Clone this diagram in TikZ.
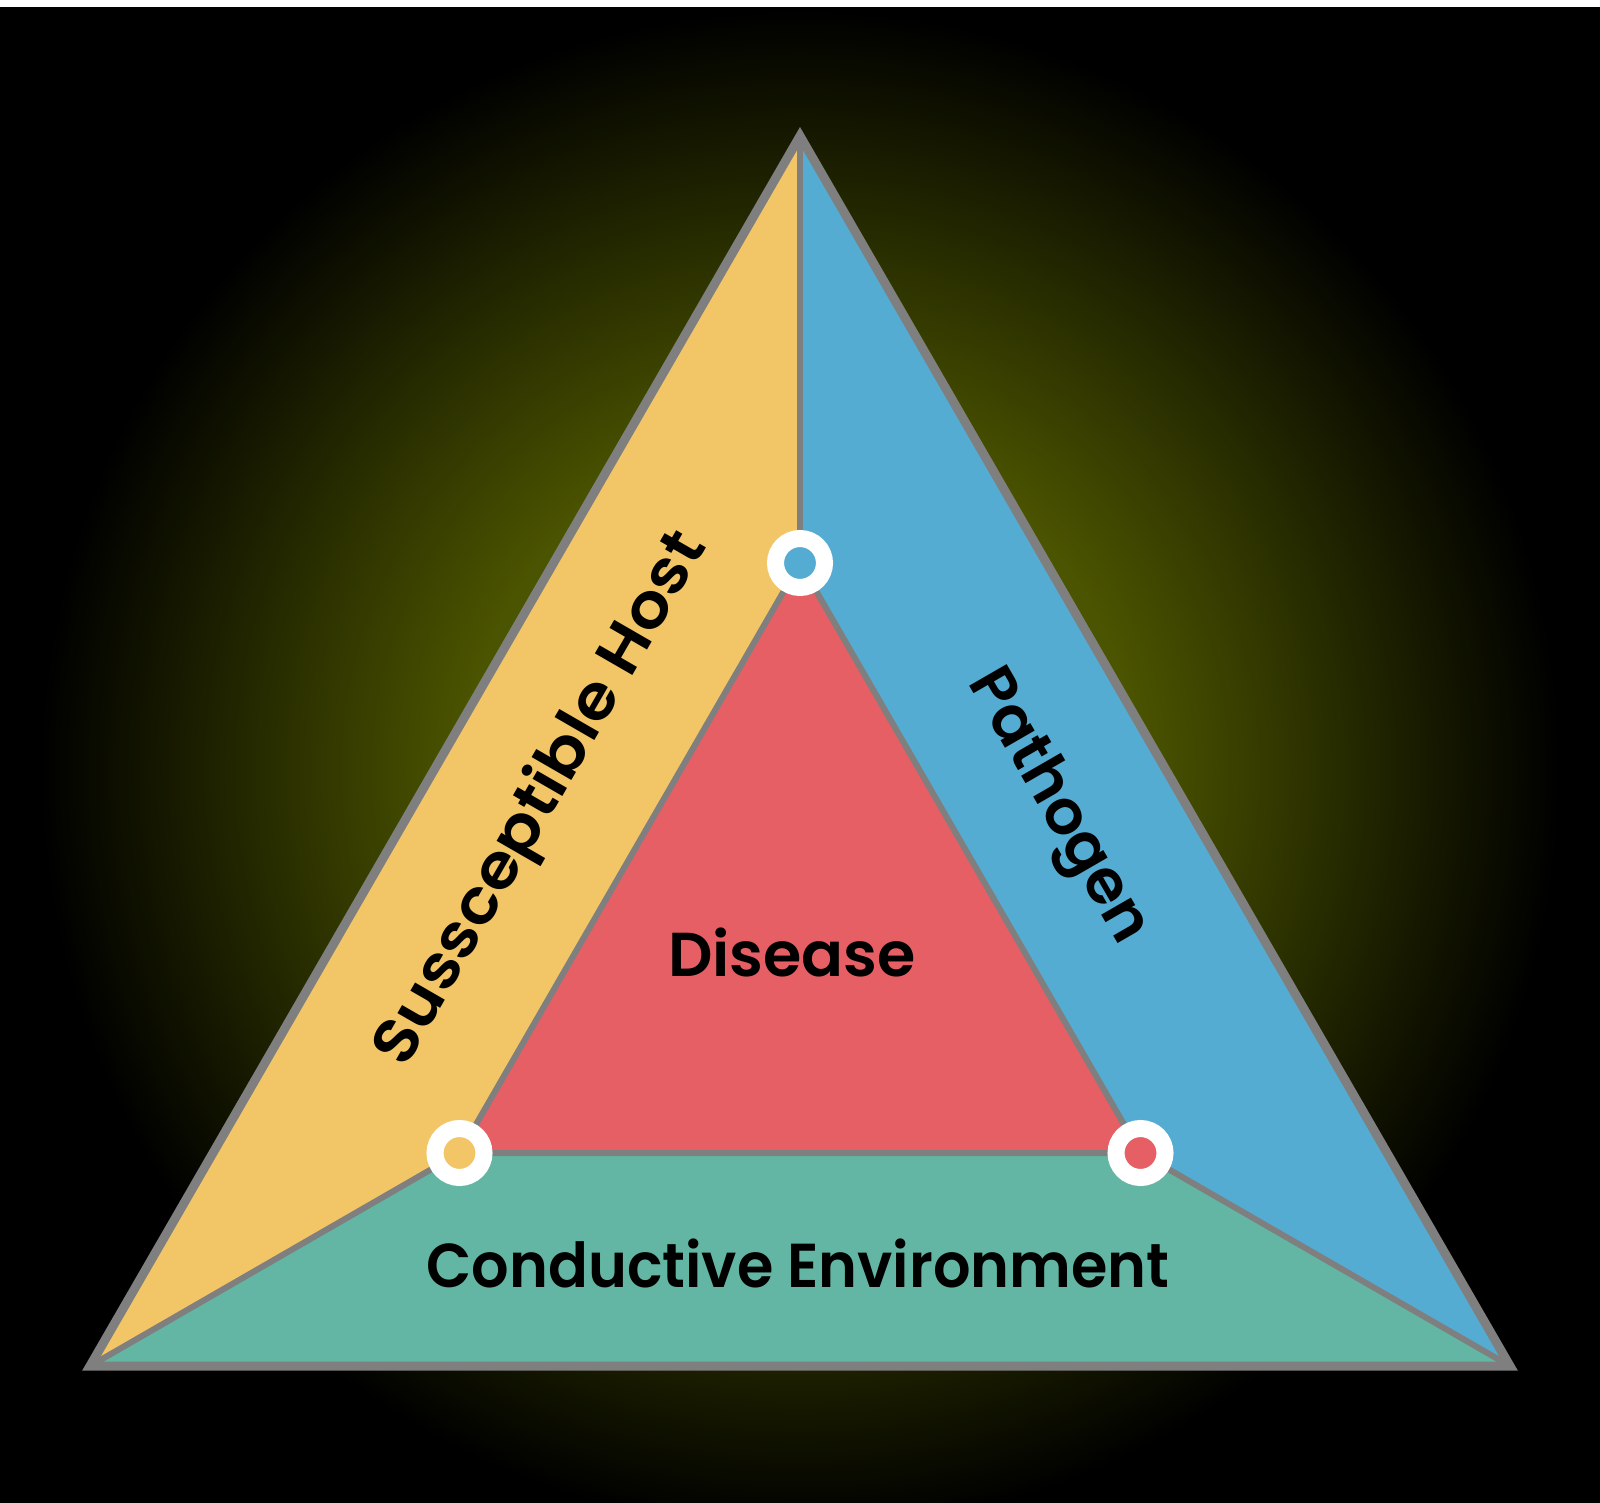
\documentclass[tikz,border=0pt]{standalone}
\usepackage{fontspec}
\setmainfont{Poppins}[UprightFont=* SemiBold]
\usepackage{tikz}

\definecolor{hostyellow}{HTML}{F2C667}
\definecolor{pathblue}{HTML}{55ACD3}
\definecolor{disred}{HTML}{E55F64}
\definecolor{envgreen}{HTML}{62B6A3}
\definecolor{rimgray}{HTML}{7F7F7F}
\definecolor{glowolive}{HTML}{4B5400}

% the path box of \shade covers the middle 50bp of the shading
\pgfdeclareradialshading{glow}{\pgfpoint{0bp}{0bp}}{color(0bp)=(glowolive); color(11bp)=(glowolive); color(25bp)=(black); color(50bp)=(black)}

\tikzset{
  spoke/.style={draw=rimgray,line width=6pt,line join=miter},
  rim/.style={draw=rimgray,line width=9pt,line join=miter},
  dot/.style={circle,draw=white,line width=17pt,fill=#1,minimum size=49pt,inner sep=0pt},
  heading/.style={font=\fontsize{62}{62}\selectfont,text=black,inner sep=0pt}
}

\begin{document}
\begin{tikzpicture}[x=1pt,y=-1pt]
\useasboundingbox (0,0) rectangle (1600,1503);
% background
\fill[black] (0,7) rectangle (1600,1503);
\begin{scope}
  \clip (0,7) rectangle (1600,1503);
  \shade[shading=glow] (800,770) circle (760);
\end{scope}
\fill[white] (0,0) rectangle (1600,7);

% corners of the outer and inner triangle
\coordinate (apex) at (800,136);
\coordinate (bl) at (90,1366);
\coordinate (br) at (1510,1366);
\coordinate (ht) at (800,563);
\coordinate (hl) at (459.5,1153);
\coordinate (hr) at (1140.5,1153);

% the four parts
\fill[hostyellow] (apex) -- (ht) -- (hl) -- (bl) -- cycle;
\fill[pathblue] (apex) -- (br) -- (hr) -- (ht) -- cycle;
\fill[envgreen] (bl) -- (hl) -- (hr) -- (br) -- cycle;
\fill[disred] (ht) -- (hl) -- (hr) -- cycle;

% dividing lines
\draw[spoke] (ht) -- (apex);
\draw[spoke] (hl) -- (bl);
\draw[spoke] (hr) -- (br);
\draw[spoke] (ht) -- (hl) -- (hr) -- cycle;
\draw[rim] (apex) -- (br) -- (bl) -- cycle;

% rings at the inner corners
\node[dot=pathblue] (topdot) at (ht) {};
\node[dot=hostyellow] (leftdot) at (hl) {};
\node[dot=disred] (rightdot) at (hr) {};

% labels
\node[heading,anchor=base] (disease) at (792,976) {Disease};
\node[heading,anchor=base,xscale=0.95] (environment) at (798,1287) {Conductive Environment};
\node[heading,rotate=60,xscale=1.08,text height=44pt,text depth=0pt] (host) at (537,797) {Sussceptible Host};
\node[heading,rotate=-60,text height=44pt,text depth=0pt] (pathogen) at (1063,804) {Pathogen};
\end{tikzpicture}
\end{document}
